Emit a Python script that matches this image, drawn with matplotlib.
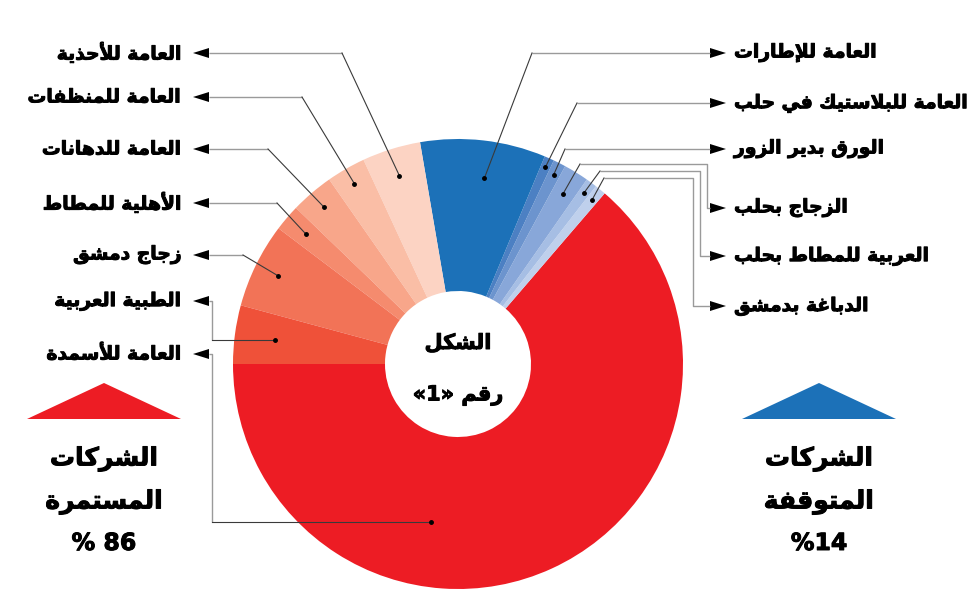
import re
import numpy as np
import matplotlib.pyplot as plt
import matplotlib.patheffects as pe

# slices in drawing order: from 9 o'clock, going down and round (on screen counter-clockwise)
companies = ["العامة للأسمدة", "الدباغة بدمشق", "العربية للمطاط بحلب", "الزجاج بحلب",
             "الورق بدير الزور", "العامة للبلاستيك في حلب", "العامة للإطارات",
             "العامة للأحذية", "العامة للمنظفات", "العامة للدهانات", "الأهلية للمطاط",
             "زجاج دمشق", "الطبية العربية"]
shares = [63.7, 0.8, 0.8, 1.8, 0.9, 0.7, 9.0, 4.2, 2.8, 3.1, 1.9, 6.1, 4.2]
colors = ["#ED1C24", "#BFD0EC", "#A6BEE4", "#88A7D9", "#6C94CE", "#4C80C3", "#1C71B8",
          "#FCD3C3", "#FABEA6", "#F8A68A", "#F58B6E", "#F27357", "#EF5139"]

group_names = ["الشركات المستمرة", "الشركات المتوقفة"]
group_pcts = ["86 %", "14%"]
group_colors = ["#ED1C24", "#1C71B8"]

center_lines = ["الشكل", "رقم «1»"]

# ---- tiny arabic shaper: matplotlib draws glyphs left to right without joining ----
AR = {
    'ا': (0xFE8D, False), 'أ': (0xFE83, False), 'إ': (0xFE87, False),
    'ب': (0xFE8F, True), 'ة': (0xFE93, False), 'ت': (0xFE95, True),
    'ج': (0xFE9D, True), 'ح': (0xFEA1, True), 'د': (0xFEA9, False),
    'ذ': (0xFEAB, False), 'ر': (0xFEAD, False), 'ز': (0xFEAF, False),
    'س': (0xFEB1, True), 'ش': (0xFEB5, True), 'ط': (0xFEC1, True),
    'ظ': (0xFEC5, True), 'ع': (0xFEC9, True), 'غ': (0xFECD, True),
    'ف': (0xFED1, True), 'ق': (0xFED5, True), 'ك': (0xFED9, True),
    'ل': (0xFEDD, True), 'م': (0xFEE1, True), 'ن': (0xFEE5, True),
    'ه': (0xFEE9, True), 'و': (0xFEED, False), 'ي': (0xFEF1, True),
    '\uFEFB': (0xFEFB, False), '\uFEF7': (0xFEF7, False), '\uFEF9': (0xFEF9, False),
}
LAM_ALEF = {'لا': '\uFEFB', 'لأ': '\uFEF7', 'لإ': '\uFEF9'}
MIRROR = {'«': '»', '»': '«', '(': ')', ')': '('}


def rtl(s):
    for k, v in LAM_ALEF.items():
        s = s.replace(k, v)
    out = []
    for i, c in enumerate(s):
        if c not in AR:
            out.append(MIRROR.get(c, c))
            continue
        base, dual = AR[c]
        prev = s[i - 1] if i > 0 else ''
        nxt = s[i + 1] if i + 1 < len(s) else ''
        jp = prev in AR and AR[prev][1]
        jn = dual and nxt in AR
        out.append(chr(base + (3 if jp and jn else 1 if jp else 2 if jn else 0)))
    vis = ''.join(reversed(out))
    # numbers keep their own order
    return re.sub(r'[0-9]+', lambda m: m.group(0)[::-1], vis)


plt.rcParams['font.family'] = ['DejaVu Sans']
heavy = [pe.withStroke(linewidth=0.7, foreground='black')]

CX, CY, R, R_IN = 458, 364, 225, 73

fig = plt.figure(figsize=(9.76, 5.98), dpi=100, facecolor="white")
ax = fig.add_axes([0, 0, 1, 1])
wedges, _ = ax.pie(shares, colors=colors, startangle=180, counterclock=False,
                   radius=R, center=(CX, CY),
                   wedgeprops=dict(width=R - R_IN, linewidth=0))
ax.set_xlim(0, 976)
ax.set_ylim(598, 0)
ax.set_aspect('equal')
ax.axis('off')

# where the leader line meets each slice: (fraction along slice, radius)
dot_pos = {"العامة للأسمدة": (0.35, 160), "الدباغة بدمشق": (0.5, 212),
           "العربية للمطاط بحلب": (0.5, 212), "الزجاج بحلب": (0.5, 200),
           "الورق بدير الزور": (0.5, 212), "العامة للبلاستيك في حلب": (0.5, 215),
           "العامة للإطارات": (0.45, 188), "العامة للأحذية": (0.5, 197),
           "العامة للمنظفات": (0.5, 208), "العامة للدهانات": (0.5, 206),
           "الأهلية للمطاط": (0.5, 200), "زجاج دمشق": (0.5, 200),
           "الطبية العربية": (0.5, 185)}

# label y and elbow points (from the arrow towards the slice); None = height of the dot
left_side = {
    "العامة للأحذية": (53, [(342, 53)]),
    "العامة للمنظفات": (97, [(302, 97)]),
    "العامة للدهانات": (149, [(268, 149)]),
    "الأهلية للمطاط": (203, [(277, 203)]),
    "زجاج دمشق": (255, [(243, 255)]),
    "الطبية العربية": (301, [(212, 301), (212, None)]),
    "العامة للأسمدة": (354, [(212, 354), (212, None)]),
}
right_side = {
    "العامة للإطارات": (53, [(532, 53)]),
    "العامة للبلاستيك في حلب": (103, [(577, 103)]),
    "الورق بدير الزور": (149, [(565, 149)]),
    "الزجاج بحلب": (208, [(707, 208), (707, 164), (580, 164)]),
    "العربية للمطاط بحلب": (256, [(700, 256), (700, 171), (600, 171)]),
    "الدباغة بدمشق": (306, [(693, 306), (693, 178), (604, 178)]),
}

for name, w in zip(companies, wedges):
    frac, rad = dot_pos[name]
    th = np.deg2rad(w.theta2 - frac * (w.theta2 - w.theta1))
    dx, dy = CX + rad * np.cos(th), CY + rad * np.sin(th)

    if name in left_side:
        ly, pts = left_side[name]
        base, tip, tx, ha = 209, 193, 182, 'right'
    else:
        ly, pts = right_side[name]
        base, tip, tx, ha = 710, 726, 734, 'left'
    path = [(base, ly)] + [(px, dy if py is None else py) for px, py in pts]
    xs = [p[0] for p in path]
    ys = [p[1] for p in path]
    ax.plot(xs, ys, color="#9a9a9a", lw=1.0, solid_capstyle='butt')
    ax.plot([xs[-1], dx], [ys[-1], dy], color="#3a3a3a", lw=0.8)
    ax.plot(dx, dy, 'o', color='black', ms=2.5)
    ax.fill([tip, base, base], [ly, ly - 5, ly + 5], color='black', lw=0)
    ax.text(tx, ly, rtl(name), ha=ha, va='center', fontsize=13.5,
            fontweight='bold', color='black', path_effects=heavy)

# centre caption
for yy, line in zip([343, 395], center_lines):
    ax.text(CX, yy, rtl(line), ha='center', va='center', fontsize=15,
            fontweight='bold', path_effects=heavy)

# group markers at the bottom corners
for gx, name, pct, col in zip([104, 819], group_names, group_pcts, group_colors):
    ax.fill([gx - 77, gx, gx + 77], [419, 383, 419], color=col, lw=0)
    w1, w2 = name.split(' ')
    ax.text(gx, 459, rtl(w1), ha='center', va='center', fontsize=18,
            fontweight='bold', path_effects=heavy)
    ax.text(gx, 502, rtl(w2), ha='center', va='center', fontsize=18,
            fontweight='bold', path_effects=heavy)
    ax.text(gx, 543, rtl(pct), ha='center', va='center', fontsize=17,
            fontweight='bold', path_effects=heavy)

fig.savefig("out.png", dpi=100, facecolor="white")
